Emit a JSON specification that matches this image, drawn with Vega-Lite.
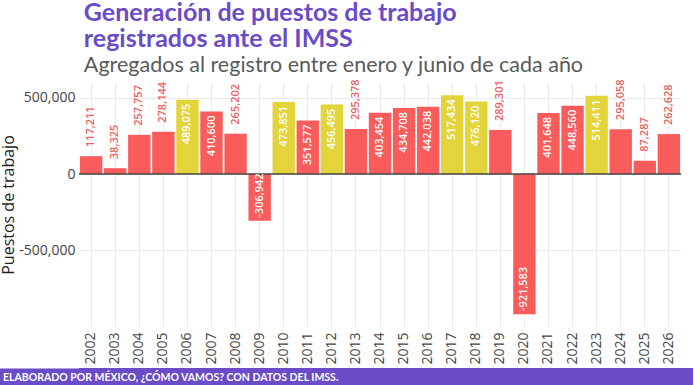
{
  "$schema": "https://vega.github.io/schema/vega-lite/v6.json",
  "padding": 0,
  "background": "white",
  "spacing": 3,
  "config": {"view": {"stroke": null}, "font": "Open Sans"},
  "title": {
    "text": ["Generación de puestos de trabajo", "registrados ante el IMSS"],
    "subtitle": "Agregados al registro entre enero y junio de cada año",
    "anchor": "start",
    "dx": 83,
    "font": "Lato",
    "fontSize": 25,
    "fontWeight": "bold",
    "color": "#6A4BC8",
    "lineHeight": 26,
    "subtitleFont": "Lato",
    "subtitleFontSize": 21.5,
    "subtitleColor": "#5a5a5a",
    "subtitlePadding": 3,
    "offset": 3
  },
  "datasets": {
    "jobs": [
      {"year": "2002", "value": 117211},
      {"year": "2003", "value": 38325},
      {"year": "2004", "value": 257757},
      {"year": "2005", "value": 278144},
      {"year": "2006", "value": 489075},
      {"year": "2007", "value": 410600},
      {"year": "2008", "value": 265202},
      {"year": "2009", "value": -306942},
      {"year": "2010", "value": 473851},
      {"year": "2011", "value": 351577},
      {"year": "2012", "value": 456495},
      {"year": "2013", "value": 295378},
      {"year": "2014", "value": 403454},
      {"year": "2015", "value": 434708},
      {"year": "2016", "value": 442038},
      {"year": "2017", "value": 517434},
      {"year": "2018", "value": 476120},
      {"year": "2019", "value": 289301},
      {"year": "2020", "value": -921583},
      {"year": "2021", "value": 401648},
      {"year": "2022", "value": 448560},
      {"year": "2023", "value": 514411},
      {"year": "2024", "value": 295058},
      {"year": "2025", "value": 87287},
      {"year": "2026", "value": 262628}
    ]
  },
  "vconcat": [
    {
      "width": 602,
      "height": 245,
      "data": {"name": "jobs"},
      "transform": [{"calculate": "replace(format(datum.value, ','), '−', '-')", "as": "label"}],
      "layer": [
        {
          "mark": {"type": "bar"},
          "encoding": {
            "x": {
              "field": "year", "type": "ordinal",
              "scale": {"paddingInner": 0.07, "paddingOuter": 0.04},
              "axis": {
                "title": null, "labelAngle": -90, "labelFontSize": 14, "labelColor": "#444444",
                "labelPadding": 5, "ticks": false, "domain": false, "grid": true, "gridColor": "#ebebeb"
              }
            },
            "y": {
              "field": "value", "type": "quantitative",
              "scale": {"domain": [-1006000, 605000], "nice": false},
              "axis": {
                "values": [-500000, 0, 500000],
                "title": "Puestos de trabajo", "titleFont": "Open Sans", "titleFontSize": 16,
                "titleFontWeight": "normal", "titleColor": "#222222", "titlePadding": 2,
                "labelFontSize": 14, "labelColor": "#444444", "labelPadding": 4,
                "ticks": false, "domain": false, "gridColor": "#ebebeb",
                "labelExpr": "replace(format(datum.value, ','), '−', '-')"
              }
            },
            "color": {"condition": {"test": "datum.value > 450000", "value": "#E2D43A"}, "value": "#FA5C5C"}
          }
        },
        {
          "data": {"values": [{}]},
          "mark": {"type": "rule", "color": "#444444", "strokeWidth": 1.5},
          "encoding": {"y": {"datum": 0}}
        },
        {
          "transform": [{"filter": "datum.value >= 340000"}],
          "mark": {"type": "text", "angle": 270, "align": "right", "baseline": "middle", "dx": -4, "color": "white", "fontSize": 11, "fontWeight": 600},
          "encoding": {
            "x": {"field": "year", "type": "ordinal"},
            "y": {"field": "value", "type": "quantitative"},
            "text": {"field": "label"}
          }
        },
        {
          "transform": [{"filter": "datum.value < 0"}],
          "mark": {"type": "text", "angle": 270, "align": "left", "baseline": "middle", "dx": 3, "color": "white", "fontSize": 11, "fontWeight": 600},
          "encoding": {
            "x": {"field": "year", "type": "ordinal"},
            "y": {"field": "value", "type": "quantitative"},
            "text": {"field": "label"}
          }
        },
        {
          "transform": [{"filter": "datum.value >= 0 && datum.value < 340000"}],
          "mark": {"type": "text", "angle": 270, "align": "left", "baseline": "middle", "dx": 9, "color": "#E8605F", "fontSize": 11, "fontWeight": 600},
          "encoding": {
            "x": {"field": "year", "type": "ordinal"},
            "y": {"field": "value", "type": "quantitative"},
            "text": {"field": "label"}
          }
        }
      ]
    },
    {
      "width": 614,
      "height": 19,
      "view": {"fill": "#6A4BC8", "stroke": null},
      "data": {"values": [{"t": "ELABORADO POR MÉXICO, ¿CÓMO VAMOS? CON DATOS DEL IMSS."}]},
      "mark": {"type": "text", "align": "left", "baseline": "middle", "dx": -76, "color": "white", "fontWeight": "bold", "fontSize": 10.5, "font": "Lato"},
      "encoding": {
        "text": {"field": "t"},
        "x": {"field": "t", "type": "nominal", "scale": {"type": "point", "padding": 0, "align": 0}, "axis": null},
        "y": {
          "datum": 0.5, "type": "quantitative",
          "scale": {"domain": [0, 1], "nice": false},
          "axis": {
            "title": null, "labels": false, "ticks": false, "grid": false,
            "domain": true, "domainColor": "#6A4BC8", "domainWidth": 82, "domainCap": "butt", "offset": 41
          }
        }
      }
    }
  ]
}
